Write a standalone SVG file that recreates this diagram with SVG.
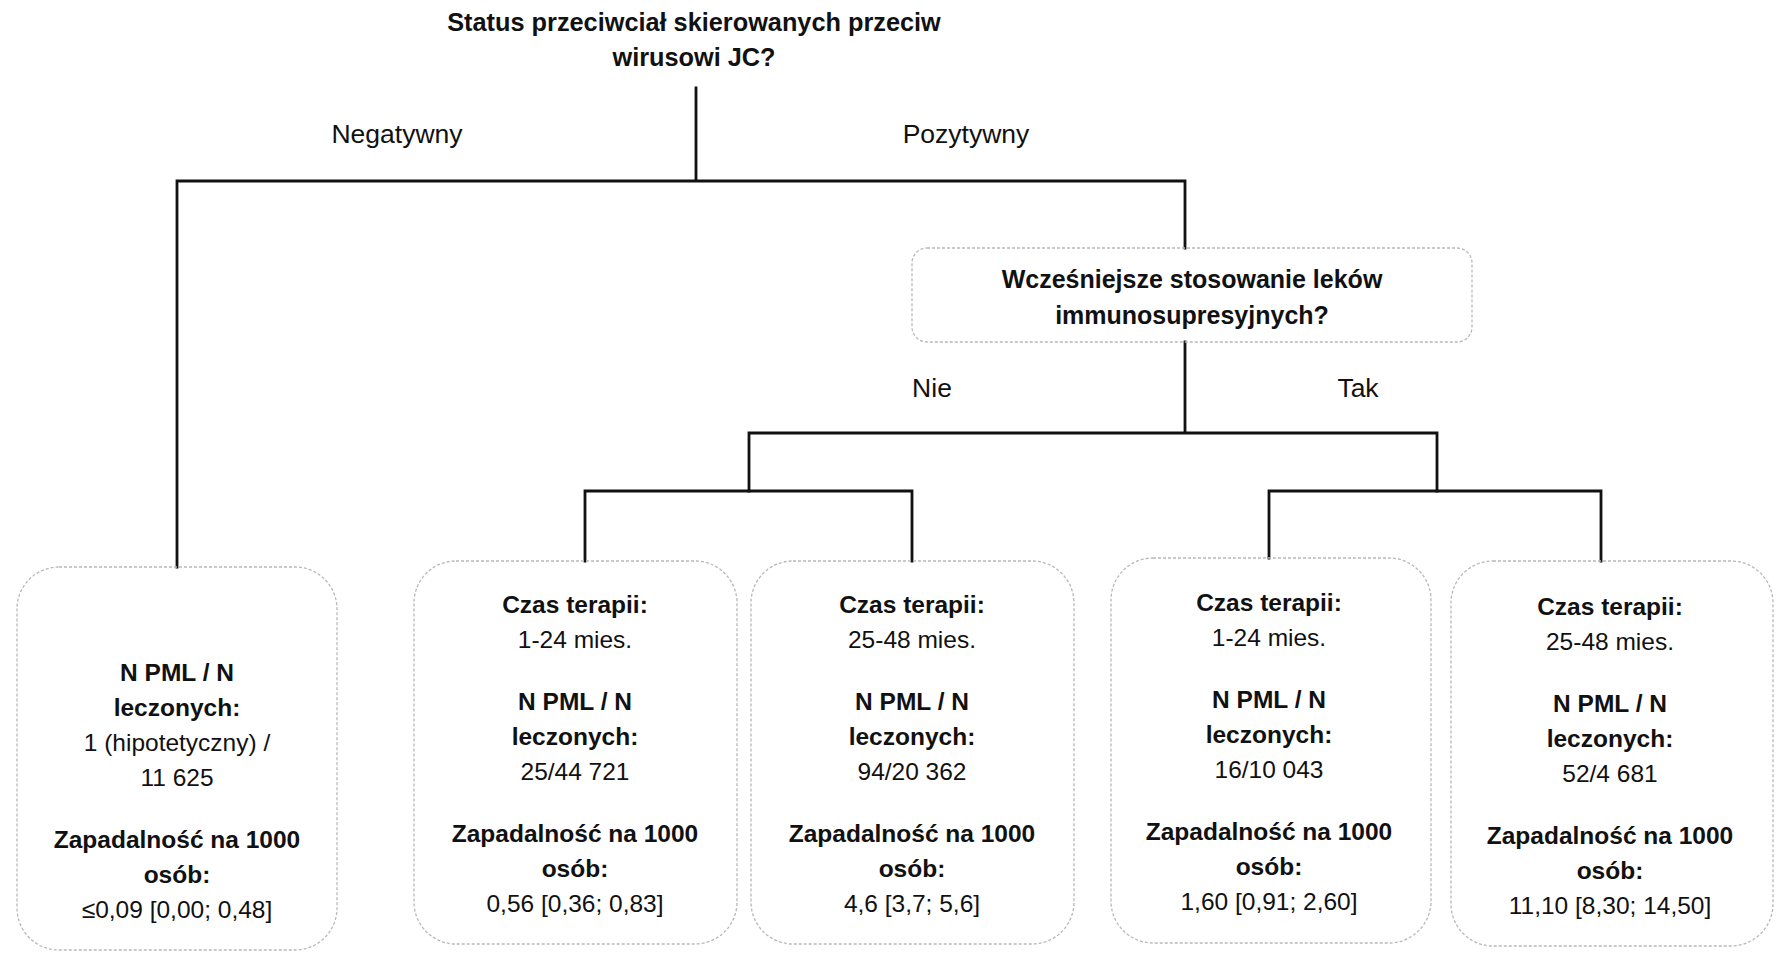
<svg xmlns="http://www.w3.org/2000/svg" width="1777" height="954" viewBox="0 0 1777 954">
<style>
text{font-family:"Liberation Sans",Arial,sans-serif;font-size:24.5px;fill:#111;text-anchor:middle}
.b{font-weight:bold}
.t{font-size:25.3px}
.q{font-size:25px}
.lab{font-size:26.5px}
.box{fill:none;stroke:#b8b8b8;stroke-width:1.3;stroke-dasharray:3 2}
.ln{fill:none;stroke:#111;stroke-width:2.8;stroke-linecap:square}
</style>
<rect width="1777" height="954" fill="#fff"/>
<g id="title">
<text class="b t" x="694" y="31">Status przeciwciał skierowanych przeciw</text>
<text class="b t" x="694" y="66">wirusowi JC?</text>
</g>
<g id="connectors">
<path class="ln" d="M696 88V181M177 181H1185M177 181V567M1185 181V248"/>
<path class="ln" d="M1185 342V433M749 433H1437M749 433V491M1437 433V491"/>
<path class="ln" d="M585 491H912M585 491V561M912 491V561"/>
<path class="ln" d="M1269 491H1601M1269 491V558M1601 491V561"/>
<text class="lab" x="397" y="143">Negatywny</text>
<text class="lab" x="966" y="143">Pozytywny</text>
<text class="lab" x="932" y="397">Nie</text>
<text class="lab" x="1358" y="397">Tak</text>
</g>
<g id="q">
<rect class="box" x="912" y="248" width="560" height="94" rx="15"/>
<text class="b q" x="1192" y="288">Wcześniejsze stosowanie leków</text>
<text class="b q" x="1192" y="324">immunosupresyjnych?</text>
</g>
<g id="n1">
<rect class="box" x="17" y="567" width="320" height="383" rx="42"/>
<text class="b" x="177" y="681">N PML / N</text>
<text class="b" x="177" y="716">leczonych:</text>
<text x="177" y="751">1 (hipotetyczny) /</text>
<text x="177" y="786">11 625</text>
<text class="b" x="177" y="848">Zapadalność na 1000</text>
<text class="b" x="177" y="883">osób:</text>
<text x="177" y="918">≤0,09 [0,00; 0,48]</text>
</g>
<g id="n2">
<rect class="box" x="414" y="561" width="323" height="383" rx="42"/>
<text class="b" x="575" y="613">Czas terapii:</text>
<text x="575" y="648">1-24 mies.</text>
<text class="b" x="575" y="710">N PML / N</text>
<text class="b" x="575" y="745">leczonych:</text>
<text x="575" y="780">25/44 721</text>
<text class="b" x="575" y="842">Zapadalność na 1000</text>
<text class="b" x="575" y="877">osób:</text>
<text x="575" y="912">0,56 [0,36; 0,83]</text>
</g>
<g id="n3">
<rect class="box" x="751" y="561" width="323" height="383" rx="42"/>
<text class="b" x="912" y="613">Czas terapii:</text>
<text x="912" y="648">25-48 mies.</text>
<text class="b" x="912" y="710">N PML / N</text>
<text class="b" x="912" y="745">leczonych:</text>
<text x="912" y="780">94/20 362</text>
<text class="b" x="912" y="842">Zapadalność na 1000</text>
<text class="b" x="912" y="877">osób:</text>
<text x="912" y="912">4,6 [3,7; 5,6]</text>
</g>
<g id="n4">
<rect class="box" x="1111" y="558" width="320" height="385" rx="42"/>
<text class="b" x="1269" y="611">Czas terapii:</text>
<text x="1269" y="646">1-24 mies.</text>
<text class="b" x="1269" y="708">N PML / N</text>
<text class="b" x="1269" y="743">leczonych:</text>
<text x="1269" y="778">16/10 043</text>
<text class="b" x="1269" y="840">Zapadalność na 1000</text>
<text class="b" x="1269" y="875">osób:</text>
<text x="1269" y="910">1,60 [0,91; 2,60]</text>
</g>
<g id="n5">
<rect class="box" x="1451" y="561" width="322" height="385" rx="42"/>
<text class="b" x="1610" y="615">Czas terapii:</text>
<text x="1610" y="650">25-48 mies.</text>
<text class="b" x="1610" y="712">N PML / N</text>
<text class="b" x="1610" y="747">leczonych:</text>
<text x="1610" y="782">52/4 681</text>
<text class="b" x="1610" y="844">Zapadalność na 1000</text>
<text class="b" x="1610" y="879">osób:</text>
<text x="1610" y="914">11,10 [8,30; 14,50]</text>
</g>
</svg>
